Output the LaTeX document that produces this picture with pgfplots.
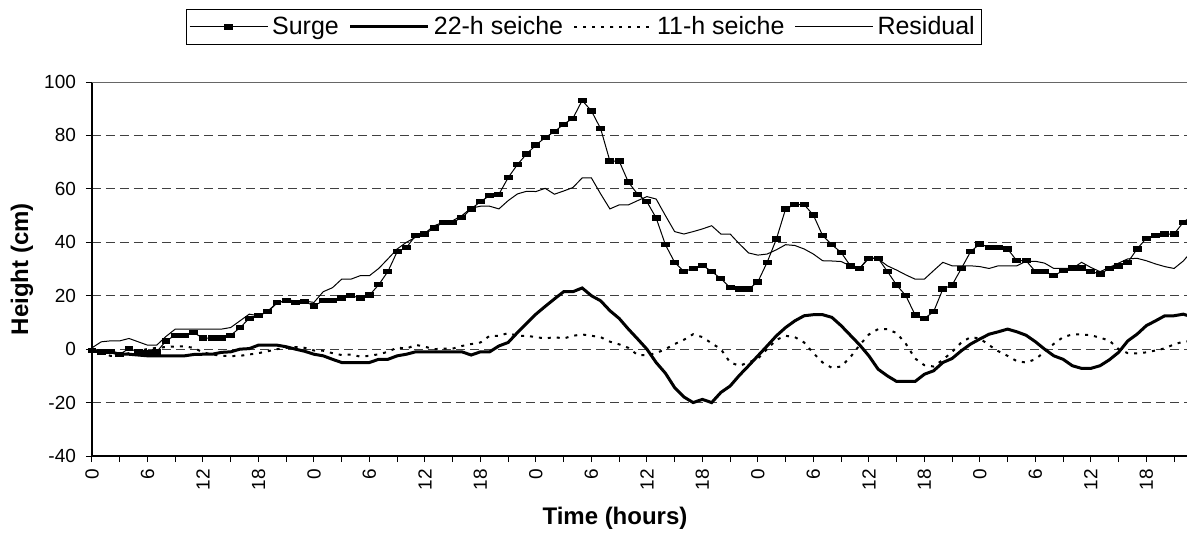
\documentclass[border=0pt]{standalone}
\usepackage{fontspec}
\setmainfont{Liberation Sans}
\usepackage{pgfplots}
\pgfplotsset{compat=1.18}
\usepackage{pgfplotstable}

% hourly values: surge, 22-h seiche, 11-h seiche, residual
\pgfplotstableread{
h surge s22 s11 res
0 -0.6 -0.6 0 0.5
1 -1 -1 -1.5 2.75
2 -0.8 -1 -2.5 3.1
3 -1.9 -1.9 -2.5 3.1
4 0.2 -1.9 -1.5 4
5 -1 -2.2 -0.5 2.75
6 -1.5 -2.5 0 1.5
7 -1 -2.5 0.5 1.5
8 3.1 -2.5 0.8 4.75
9 5.2 -2.5 1 7.5
10 5.2 -2.5 1 7.5
11 6.2 -2 0.5 7.5
12 4.1 -1.9 -1.2 7.5
13 4.1 -1.9 -2 7.5
14 4.1 -1.2 -2.5 7.5
15 5.2 -1 -2.6 8.1
16 8 0 -2.5 10.6
17 11.5 0.2 -2 13.1
18 12.5 1.5 -1.5 12.5
19 14.2 1.5 -0.8 14
20 17.4 1.5 0 17.2
21 18.1 0.9 0.5 18.4
22 17.4 0 0.8 18.1
23 17.8 -0.8 0.5 18
24 16.2 -1.9 -0.5 17.5
25 18.1 -2.5 -0.6 21.5
26 18.1 -3.8 -1.5 23
27 19.2 -5 -2.2 26.2
28 20 -5 -2 26.2
29 19.2 -5 -2.8 27.5
30 20.2 -5 -2.5 27.5
31 24.1 -3.8 -1.9 30.2
32 29.1 -3.8 -1 33.8
33 36.5 -2.5 0.6 37.5
34 38 -1.9 0.2 40
35 42.6 -1 1.6 41.9
36 43.1 -1 0.9 43.4
37 45.4 -1 0 46.2
38 47.5 -1 0.2 47.5
39 47.5 -1 0.2 48.1
40 49.2 -1 1.2 50
41 52.5 -2.2 1.9 52.8
42 55.2 -1 2.5 53.5
43 57.5 -1 5 53.5
44 58 1.2 5 52.5
45 64.2 2.5 6 55.6
46 69.1 6.2 5 58.1
47 73.1 9.7 5 59.1
48 76.4 13.1 4.5 59
49 79.2 16 4 60.2
50 81.4 18.8 4.5 58
51 84.2 21.5 4 59.2
52 86.4 21.5 5 60.5
53 93.1 22.9 5.5 64.1
54 89.2 20 5 64.1
55 82.5 18.1 4.5 58.1
56 70.4 14.4 2.8 52.5
57 70.4 11.5 1.8 54
58 62.5 7.5 0.5 54
59 58 3.8 -2.2 55.6
60 55.2 0 -2.2 57.1
61 49.1 -5 -1.5 56.2
62 39.1 -9 0 50
63 32.5 -14.4 1.9 44
64 29.1 -17.9 3.5 43.1
65 30.2 -20 5.6 44
66 31.4 -18.8 4.5 45
67 29.1 -20 2.2 46.2
68 26.4 -16.2 0 43.1
69 23 -13.8 -5 43.1
70 22.5 -9.8 -6.2 39.4
71 22.5 -6.2 -5 36
72 25.2 -2.5 -3.5 35.2
73 32.5 1.2 0 35.6
74 41.2 5 3.5 37.2
75 52.5 8.1 5 39.1
76 54.1 10.6 4.5 38.8
77 54.1 12.5 2.5 37.5
78 50.2 12.9 -1.5 35.6
79 42.5 12.9 -5 33.1
80 39.1 11.9 -7 33
81 36.2 8.8 -6.5 32.8
82 31.2 5.2 -3 31.2
83 30.2 1.6 1.5 30.2
84 34 -2.5 5.5 34.4
85 34 -7.5 7.5 33.8
86 29.1 -10 7.5 31.2
87 24 -12.1 6 29.6
88 20 -12.1 2 27.8
89 12.8 -12.1 -3.5 26.2
90 11.5 -9.4 -6 26.2
91 14 -8.1 -6.5 29.4
92 22.5 -5 -4 32.5
93 24 -3.5 -1 31.2
94 30.2 -0.6 2.5 31.2
95 36.5 1.9 4.5 31.2
96 39.4 3.8 4 30.9
97 38.1 5.6 1.5 30.2
98 38.1 6.5 -0.8 31.2
99 37.5 7.5 -2.5 31.2
100 33.1 6.5 -4.5 31.2
101 33.1 5.2 -5 32.9
102 29.1 2.8 -3.8 32.9
103 29.1 0 -1 32.2
104 27.5 -2.5 2 30.2
105 29.4 -3.8 4.5 30.2
106 30.4 -6.2 5.5 30.2
107 30.4 -7.2 5.5 32.5
108 29.1 -7.2 5.2 30.6
109 28.1 -6.2 4.3 29
110 30.2 -4 3.2 30.6
111 31.2 -1.2 0 32.2
112 32.5 3.1 -1.5 33.8
113 37.5 5.6 -1.6 34
114 41.5 8.8 -1.2 33.1
115 42.5 10.6 -0.5 31.9
116 43.1 12.5 0.3 30.9
117 43.1 12.5 1.8 30.2
118 47.5 13.1 2.8 33
119 50 12 3 37
}\surgedata

\begin{document}
\begin{tikzpicture}
\begin{axis}[
  name=ax,
  scale only axis,
  width=547.5pt, height=187pt,
  xmin=0, xmax=118.4,
  ymin=-40, ymax=100,
  axis x line*=bottom, axis y line*=left,
  axis line style={line width=0.6pt},
  xtick={0,6,...,114},
  xticklabels={0,6,12,18,0,6,12,18,0,6,12,18,0,6,12,18,0,6,12,18},
  minor xtick={3,9,...,117},
  ytick={-40,-20,...,100},
  tick align=outside,
  major tick length=3pt, minor tick length=3pt,
  tick style={black, line width=0.5pt},
  ymajorgrids,
  major grid style={black!75, dash pattern=on 4.5pt off 2.5pt, line width=0.5pt},
  /pgf/number format/assume math mode=true,
  ticklabel style={font=\fontsize{9.5}{11}\selectfont},
  xticklabel style={rotate=90, anchor=east},
  yticklabel style={xshift=-1.5pt},
  xlabel={Time (hours)}, ylabel={Height (cm)},
  label style={font=\bfseries\fontsize{12}{14}\selectfont},
  x label style={at={(axis description cs:0.4776,-0.1658)}, anchor=center},
  y label style={at={(axis description cs:-0.0639,0.5)}, anchor=center},
  legend columns=4,
  legend style={at={(0.4493,1)}, anchor=south, yshift=18.5pt, draw=black,
    line width=0.5pt, font=\fontsize{12.5}{14}\selectfont, inner sep=1.5pt,
    /tikz/every even column/.append style={column sep=3pt}},
  legend image code/.code={\draw[mark repeat=2,mark phase=2,#1] plot coordinates {(0pt,0pt) (19.5pt,0pt) (39pt,0pt)};},
]
\addplot[black, line width=0.5pt, mark=square*, mark size=1.1pt, mark options={xscale=1.8, solid}]
  table[x=h, y=surge] {\surgedata};
\addlegendentry{Surge}
\addplot[black, line width=1.5pt, no marks] table[x=h, y=s22] {\surgedata};
\addlegendentry{22-h seiche}
\addplot[black, line width=1pt, dash pattern=on 1.5pt off 3pt, no marks] table[x=h, y=s11] {\surgedata};
\addlegendentry{11-h seiche}
\addplot[black, line width=0.5pt, no marks] table[x=h, y=res] {\surgedata};
\addlegendentry{Residual}
\end{axis}
\draw[black!60, line width=0.5pt] (ax.north west) -- (ax.north east);
\pgfresetboundingbox
\path[use as bounding box] ([shift={(-46pt,-40.5pt)}]ax.south west) rectangle ([shift={(0pt,41pt)}]ax.north east);
\end{tikzpicture}
\end{document}
